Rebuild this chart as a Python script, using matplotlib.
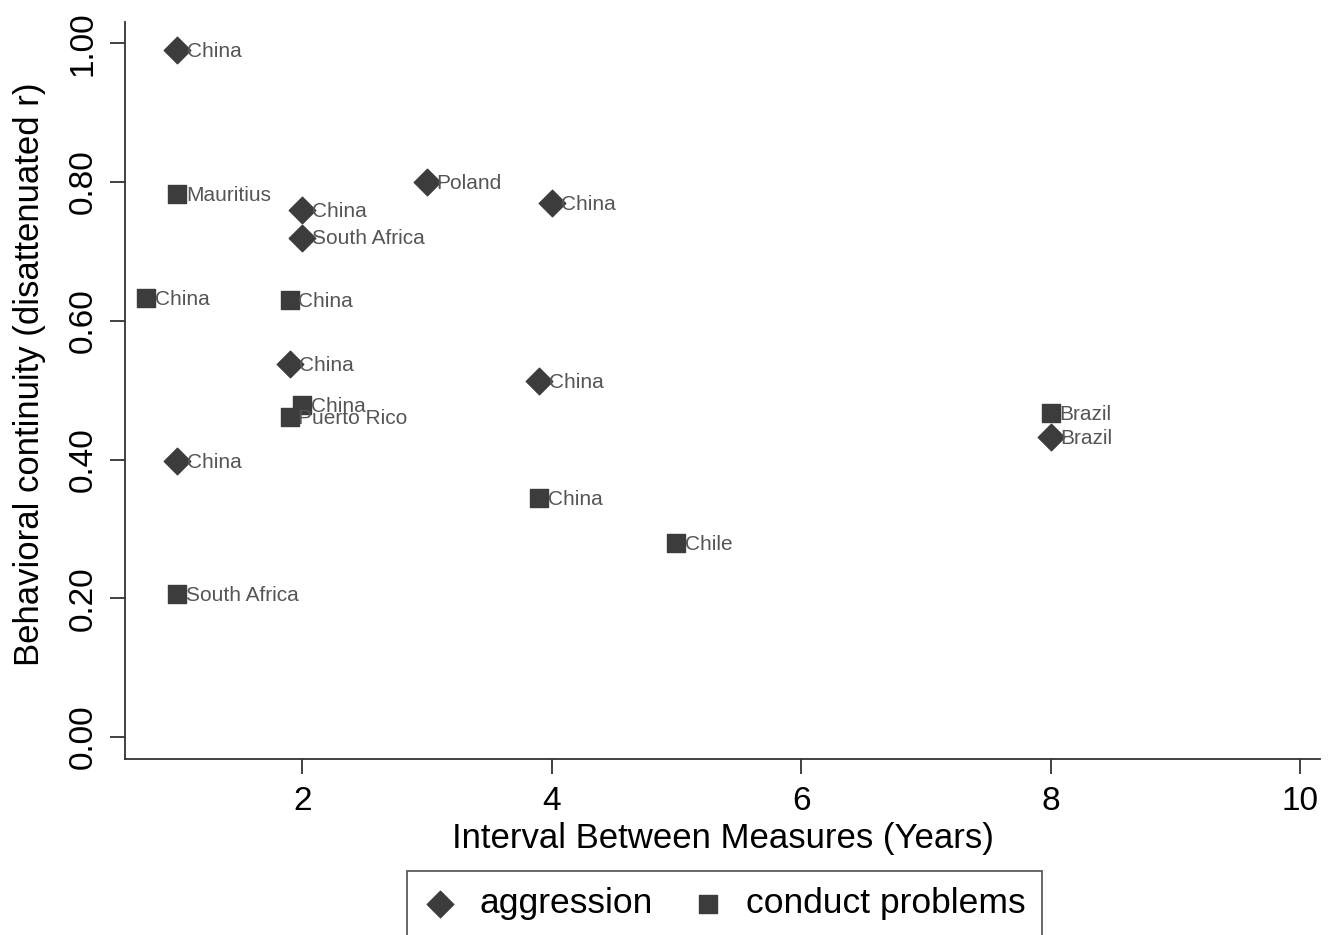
import matplotlib.pyplot as plt

plt.rcParams['font.family'] = ['Liberation Sans', 'DejaVu Sans']

# aggression (diamonds)
agg_x = [1, 3, 2, 4, 2, 1.9, 3.9, 1, 8]
agg_y = [0.99, 0.80, 0.76, 0.77, 0.72, 0.537, 0.513, 0.398, 0.432]
agg_lab = ["China", "Poland", "China", "China", "South Africa", "China", "China", "China", "Brazil"]

# conduct problems (squares)
cp_x = [1, 0.75, 1.9, 2, 1.9, 3.9, 5, 8, 1]
cp_y = [0.782, 0.633, 0.630, 0.478, 0.461, 0.344, 0.280, 0.467, 0.206]
cp_lab = ["Mauritius", "China", "China", "China", "Puerto Rico", "China", "Chile", "Brazil", "South Africa"]

xticks = [2, 4, 6, 8, 10]
yticks = [0.0, 0.2, 0.4, 0.6, 0.8, 1.0]

fig = plt.figure(figsize=(13.39, 9.35), dpi=100)
ax = fig.add_axes([0.0934, 0.188, 0.8926, 0.788])

mcol = '#3c3c3c'
ax.scatter(agg_x, agg_y, marker='D', s=13.5**2, color=mcol, label='aggression', zorder=3)
ax.scatter(cp_x, cp_y, marker='s', s=12.5**2, color=mcol, label='conduct problems', zorder=3)

# labels to the right of each marker
for x, y, t in zip(agg_x, agg_y, agg_lab):
    ax.annotate(t, (x, y), xytext=(7, -1), textcoords='offset points',
                va='center', ha='left', fontsize=15, color='#555555')
for x, y, t in zip(cp_x, cp_y, cp_lab):
    ax.annotate(t, (x, y), xytext=(6, -1), textcoords='offset points',
                va='center', ha='left', fontsize=15, color='#555555')

ax.set_xlim(0.58, 10.16)
ax.set_ylim(-0.032, 1.03)
ax.set_xticks(xticks)
ax.set_xticklabels([str(v) for v in xticks])
ax.set_yticks(yticks)
ax.set_yticklabels(['%.2f' % v for v in yticks], rotation=90, va='center')

for s in ['top', 'right']:
    ax.spines[s].set_visible(False)
for s in ['left', 'bottom']:
    ax.spines[s].set_linewidth(1.3)
    ax.spines[s].set_color('#333333')

ax.tick_params(axis='both', length=11, width=1.3, color='#333333', labelsize=24)
ax.tick_params(axis='x', pad=8)
ax.tick_params(axis='y', pad=8)

ax.set_xlabel('Interval Between Measures (Years)', fontsize=25, labelpad=4)
ax.set_ylabel('Behavioral continuity (disattenuated r)', fontsize=25)
ax.yaxis.set_label_coords(-0.066, 0.522)

leg = fig.legend(loc='upper center', bbox_to_anchor=(0.541, 0.0685), ncol=2,
                 fontsize=25.5, frameon=True, fancybox=False, edgecolor='#333333',
                 handletextpad=0.6, columnspacing=1.05, borderpad=0.45,
                 borderaxespad=0, markerscale=1.0, handlelength=1.0)
leg.get_frame().set_linewidth(1.3)

fig.savefig('out.png', dpi=100)
